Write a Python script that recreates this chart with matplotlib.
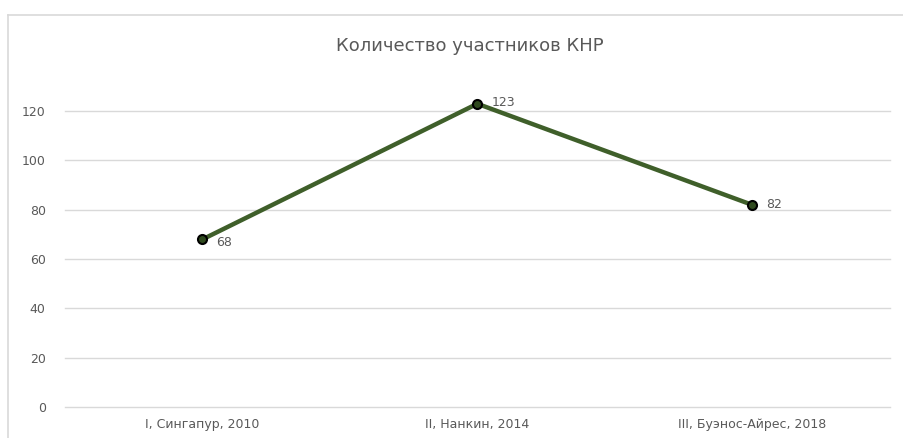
import matplotlib.pyplot as plt
from matplotlib.lines import Line2D

plt.rcParams['font.family'] = ['Liberation Sans Narrow', 'DejaVu Sans']

# data
categories = ['I, Сингапур, 2010', 'II, Нанкин, 2014', 'III, Буэнос-Айрес, 2018']
participants = [68, 123, 82]
yticks = [0, 20, 40, 60, 80, 100, 120]

fig = plt.figure(figsize=(9.04, 4.38), dpi=100)
ax = fig.add_axes([0.072, 0.0708, 0.912, 0.788])

# outer chart border (top and left edges only visible)
bx, by = 8 / 904, 1 - 15 / 438
fig.add_artist(Line2D([bx, 1.0], [by, by], transform=fig.transFigure,
                      color='#d9d9d9', linewidth=1.2))
fig.add_artist(Line2D([bx, bx], [0.0, by], transform=fig.transFigure,
                      color='#d9d9d9', linewidth=1.2))

x = list(range(len(categories)))
ax.plot(x, participants, color='#3f5f2a', linewidth=3.2,
        marker='o', markersize=6.5, markerfacecolor='#2f4a1e',
        markeredgecolor='black', markeredgewidth=1.5, solid_capstyle='round')

offsets = [(10, -2), (10, 1), (10, 0)]
for xi, v, off in zip(x, participants, offsets):
    ax.annotate(str(v), (xi, v), xytext=off, textcoords='offset points',
                ha='left', va='center', fontsize=9, color='#595959')

ax.set_xlim(-0.5, len(categories) - 0.5)
ax.set_ylim(0, 140)
ax.set_yticks(yticks)
ax.set_xticks(x)
ax.set_xticklabels(categories)
ax.tick_params(axis='both', length=0, labelsize=9, labelcolor='#595959')
ax.tick_params(axis='y', pad=14)
ax.tick_params(axis='x', pad=8)
ax.grid(axis='y', color='#d9d9d9', linewidth=1)
for gl in ax.yaxis.get_gridlines():
    gl.set_clip_on(False)
ax.set_axisbelow(True)
for s in ax.spines.values():
    s.set_visible(False)

fig.text(0.52, 0.895, 'Количество участников КНР', ha='center', va='center',
         fontsize=13, color='#595959')

fig.savefig('out.png', dpi=100)
